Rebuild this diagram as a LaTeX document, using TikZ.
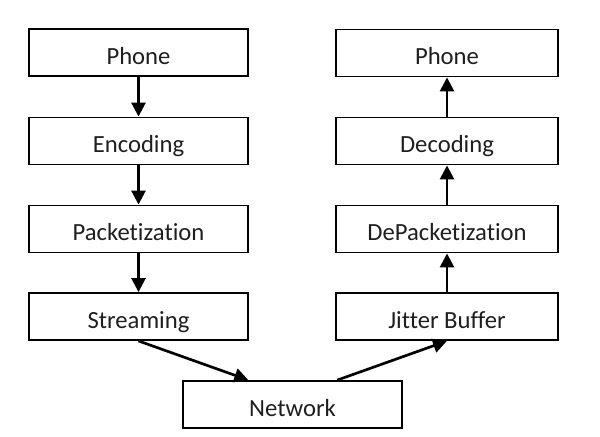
\documentclass[tikz,border=0pt]{standalone}
\usepackage{fontspec}
\setmainfont[Ligatures=NoCommon]{Carlito}
\usetikzlibrary{arrows.meta,calc}
\begin{document}
\begin{tikzpicture}[x=0.75pt,y=-0.75pt,
  box/.style={draw, line width=1.4pt, minimum width=164.25pt, minimum height=35.25pt, inner sep=0pt, text height=17.5pt, text depth=0pt, text=black!88, font=\fontsize{18.5}{20}\selectfont},
  rbox/.style={box, minimum width=166.5pt},
  arr/.style={line width=2pt, -{Triangle[length=10.5pt,width=10.5pt]}}]
\fill[white] (0,0) rectangle (600,436);
\useasboundingbox (0,0) rectangle (600,436);
\node[box] (p1) at (138.5,52.5) {Phone};
\node[box] (enc) at (138.5,141) {Encoding};
\node[box] (pkt) at (138.5,229) {Packetization};
\node[box] (str) at (138.5,316.5) {Streaming};
\node[rbox] (p2) at (447,53) {Phone};
\node[rbox] (dec) at (447,141) {Decoding};
\node[rbox] (dpk) at (447,229) {DePacketization};
\node[rbox] (jit) at (447,316.5) {Jitter Buffer};
\node[box] (net) at (292.5,404.5) {Network};
\draw[arr] (p1) -- (enc);
\draw[arr] (enc) -- (pkt);
\draw[arr] (pkt) -- (str);
\draw[arr] (str.south) -- ($(net.north west)!0.3!(net.north east)$);
\draw[arr] ($(net.north west)!0.703!(net.north east)$) -- (jit.south);
\draw[arr] (jit) -- (dpk);
\draw[arr] (dpk) -- (dec);
\draw[arr] (dec) -- (p2);
\end{tikzpicture}
\end{document}
